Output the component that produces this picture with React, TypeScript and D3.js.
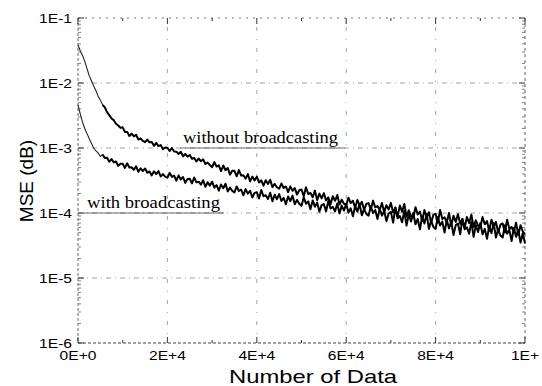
import React from 'react';
import * as d3 from 'd3';

// MSE curves, one value every 500 samples, in units of 1E-5
const sampleStep = 500;
const maxSamples = 100000;
const mseUnit = 1e-5;

const withoutBroadcasting = [
  3850, 3140, 2650, 2170, 1680, 1300, 1080, 900, 770, 625,
  545, 462, 422, 356, 320, 284, 268, 236, 222, 204,
  208, 177, 177, 153, 166, 151, 160, 135, 141, 129,
  123, 135, 122, 124, 108, 120, 107, 111, 95.5, 102,
  101, 89.8, 100, 88.3, 87.8, 80.7, 87.7, 74.4, 80.8, 73.7,
  78.2, 68.4, 70.3, 62.1, 68.6, 62.5, 66.9, 56.7, 59.6, 54.8,
  50.6, 60.8, 51.8, 54.2, 44.2, 53.8, 45.4, 49.3, 38.9, 44.7,
  44.6, 36.7, 45.7, 37.7, 38.1, 33.7, 39.7, 30.6, 36.3, 31.7,
  36.2, 29.5, 31.8, 26.3, 32.0, 28.0, 32.4, 25.0, 28.0, 24.9,
  23.6, 28.4, 24.2, 25.6, 20.9, 25.7, 22.0, 24.1, 19.2, 22.4,
  23.0, 18.1, 24.9, 19.6, 20.4, 17.5, 22.1, 15.8, 19.9, 16.8,
  20.2, 15.6, 17.4, 13.7, 18.1, 15.4, 18.9, 13.5, 16.0, 13.9,
  13.2, 17.2, 14.2, 15.4, 12.0, 15.9, 13.1, 14.9, 11.2, 13.8,
  14.2, 11.2, 15.5, 12.2, 12.8, 11.1, 14.3, 10.3, 13.2, 11.3,
  14.3, 10.2, 12.1, 8.8, 13.0, 10.5, 13.8, 8.8, 11.0, 9.0,
  8.5, 12.3, 9.5, 10.5, 7.5, 11.1, 8.5, 10.3, 7.0, 9.4,
  9.7, 7.1, 11.1, 8.1, 8.6, 7.2, 10.0, 6.4, 9.1, 7.3,
  9.6, 6.8, 8.1, 5.9, 8.7, 7.0, 9.4, 6.1, 7.7, 6.4,
  6.0, 8.7, 6.7, 7.5, 5.3, 7.9, 6.1, 7.3, 5.0, 6.6,
  6.9, 5.0, 7.9, 5.7, 6.1, 5.1, 7.1, 4.6, 6.5, 5.2, 4.7,
];

const withBroadcasting = [
  460, 335, 252, 200, 168, 140, 118, 100, 90, 84,
  74.0, 79.7, 70.2, 70.7, 61.5, 67.5, 60.2, 62.0, 53.1, 57.1,
  57.3, 49.4, 58.2, 50.2, 50.6, 46.1, 52.4, 43.1, 48.6, 44.0,
  48.4, 41.5, 43.6, 37.9, 43.8, 39.7, 44.1, 36.5, 39.7, 36.2,
  34.9, 41.5, 36.0, 37.7, 31.4, 37.9, 32.8, 35.8, 29.1, 33.3,
  33.7, 28.5, 35.1, 29.6, 30.3, 27.3, 31.9, 25.2, 29.7, 26.4,
  30.3, 24.5, 26.8, 22.0, 27.5, 24.0, 28.2, 21.5, 24.7, 21.9,
  20.8, 25.6, 21.8, 23.0, 18.7, 23.3, 19.8, 22.0, 17.3, 20.4,
  20.9, 16.7, 22.6, 18.1, 18.8, 16.4, 20.5, 15.2, 19.1, 16.3,
  19.5, 15.3, 17.1, 13.7, 17.9, 15.3, 18.5, 13.6, 15.9, 13.9,
  12.9, 17.4, 13.9, 15.1, 11.4, 15.6, 12.5, 14.5, 10.5, 13.2,
  13.7, 10.6, 15.3, 11.7, 12.4, 10.6, 14.0, 9.8, 13.0, 10.9,
  13.8, 10.2, 11.8, 8.9, 12.7, 10.5, 13.7, 9.2, 11.5, 9.7,
  9.1, 12.7, 10.0, 11.1, 8.1, 11.6, 9.1, 10.8, 7.5, 9.8,
  10.4, 7.1, 12.1, 8.3, 9.0, 7.2, 10.8, 6.4, 9.6, 7.4,
  10.0, 6.7, 8.1, 5.6, 8.9, 6.9, 9.7, 5.7, 7.6, 6.1,
  5.7, 8.7, 6.4, 7.4, 5.0, 7.9, 5.8, 7.3, 4.6, 6.5,
  6.9, 4.7, 8.1, 5.6, 6.0, 4.8, 7.3, 4.3, 6.5, 5.1,
  7.0, 4.7, 5.7, 4.0, 6.3, 4.9, 7.0, 4.2, 5.6, 4.5,
  4.2, 6.5, 4.8, 5.5, 3.7, 5.9, 4.3, 5.5, 3.5, 4.9, 3.4,
];

const xTickValues = [0, 20000, 40000, 60000, 80000, 100000];
const xTickLabels = ['0E+0', '2E+4', '4E+4', '6E+4', '8E+4', '1E+'];
const xMinorTicks = [10000, 30000, 50000, 70000, 90000];
const yTickValues = [1e-1, 1e-2, 1e-3, 1e-4, 1e-5, 1e-6];
const yTickLabels = ['1E-1', '1E-2', '1E-3', '1E-4', '1E-5', '1E-6'];
const seriesNames = ['without broadcasting', 'with broadcasting'];

const App = () => {
  const width = 542;
  const height = 386;
  const left = 78, right = 525, top = 18, bottom = 343;

  const x = d3.scaleLinear().domain([0, maxSamples]).range([left, right]);
  const y = d3.scaleLog().domain([1e-6, 1e-1]).range([bottom, top]);
  const samples = d3.range(0, maxSamples + 1, sampleStep);

  const line = d3
    .line<number>()
    .x((d, i) => x(samples[i]))
    .y((d) => y(d * mseUnit));

  // log minor ticks 2..9 in every decade
  const yMinor: number[] = [];
  yTickValues.slice(1).forEach((v) => {
    for (let k = 2; k < 10; k++) yMinor.push(v * k);
  });

  // the first few thousand samples are drawn thin, like in the scan
  const headLen = 12;

  const gridColor = '#8a8a8a';
  const sans = 'Liberation Sans, Arial, sans-serif';
  const serif = 'Liberation Serif, Times New Roman, serif';

  const curve = (values: number[], key: string) => {
    const head = values.slice(0, headLen);
    const tail = values.slice(headLen - 1);
    const tailLine = d3
      .line<number>()
      .x((d, i) => x(samples[i + headLen - 1]))
      .y((d) => y(d * mseUnit));
    return (
      <g key={key}>
        <path d={line(head) ?? ''} fill="none" stroke="#222" strokeWidth={1.1} />
        <path d={tailLine(tail) ?? ''} fill="none" stroke="#000" strokeWidth={2} strokeLinejoin="round" />
      </g>
    );
  };

  return (
    <svg width={width} height={height} style={{ position: 'absolute', left: 0, top: 0, background: '#fff' }}>
      {/* grid */}
      {yTickValues.slice(1, -1).map((v) => (
        <line key={'gy' + v} x1={left} x2={right} y1={y(v)} y2={y(v)}
          stroke={gridColor} strokeWidth={0.8} strokeDasharray="5 4 1 4" />
      ))}
      {xTickValues.slice(1, -1).map((v) => (
        <line key={'gx' + v} x1={x(v)} x2={x(v)} y1={top} y2={bottom}
          stroke={gridColor} strokeWidth={0.8} strokeDasharray="1 8 4 8" />
      ))}

      {/* frame */}
      <line x1={left} x2={right} y1={top} y2={top} stroke="#777" strokeDasharray="2 5" />
      <line x1={left} x2={right} y1={bottom} y2={bottom} stroke="#444" strokeDasharray="3 2" />
      <line x1={left} x2={left} y1={top} y2={bottom} stroke="#666" strokeDasharray="3 2" />
      <line x1={right} x2={right} y1={top} y2={bottom} stroke="#666" strokeDasharray="3 3" />

      {/* ticks */}
      {xTickValues.map((v) => (
        <g key={'tx' + v}>
          <line x1={x(v)} x2={x(v)} y1={bottom} y2={bottom - 6} stroke="#333" />
          <line x1={x(v)} x2={x(v)} y1={top} y2={top + 6} stroke="#333" />
        </g>
      ))}
      {xMinorTicks.map((v) => (
        <g key={'mx' + v}>
          <line x1={x(v)} x2={x(v)} y1={bottom} y2={bottom - 3} stroke="#333" />
          <line x1={x(v)} x2={x(v)} y1={top} y2={top + 3} stroke="#333" />
        </g>
      ))}
      {yTickValues.map((v) => (
        <g key={'ty' + v}>
          <line x1={left} x2={left + 6} y1={y(v)} y2={y(v)} stroke="#333" />
          <line x1={right} x2={right - 6} y1={y(v)} y2={y(v)} stroke="#333" />
        </g>
      ))}
      {yMinor.map((v) => (
        <g key={'my' + v}>
          <line x1={left} x2={left + 3} y1={y(v)} y2={y(v)} stroke="#666" strokeWidth={0.8} />
          <line x1={right} x2={right - 3} y1={y(v)} y2={y(v)} stroke="#666" strokeWidth={0.8} />
        </g>
      ))}

      {/* curves */}
      {curve(withoutBroadcasting, 'without')}
      {curve(withBroadcasting, 'with')}

      {/* annotations */}
      <line x1={180} x2={345} y1={y(1e-3)} y2={y(1e-3)} stroke="#444" strokeWidth={0.8} />
      <text x={183} y={143} fontFamily={serif} fontSize={17} textLength={155} lengthAdjust="spacingAndGlyphs" fill="#000">
        {seriesNames[0]}
      </text>
      <line x1={84} x2={224} y1={y(1e-4)} y2={y(1e-4)} stroke="#444" strokeWidth={0.8} />
      <text x={87} y={208} fontFamily={serif} fontSize={17} textLength={133} lengthAdjust="spacingAndGlyphs" fill="#000">
        {seriesNames[1]}
      </text>

      {/* tick labels */}
      {yTickValues.map((v, i) => (
        <text key={'ly' + v} transform={`translate(72, ${y(v) + 5}) scale(1.2, 1)`}
          textAnchor="end" fontFamily={sans} fontSize={13} fill="#000">
          {yTickLabels[i]}
        </text>
      ))}
      {xTickValues.map((v, i) => (
        <text key={'lx' + v} transform={`translate(${x(v)}, 360) scale(1.2, 1)`}
          textAnchor="middle" fontFamily={sans} fontSize={13} fill="#000">
          {xTickLabels[i]}
        </text>
      ))}

      {/* axis titles */}
      <text x={313} y={383} textAnchor="middle" fontFamily={sans} fontSize={19}
        textLength={168} lengthAdjust="spacingAndGlyphs" fill="#000">
        Number of Data
      </text>
      <text transform="translate(33, 181) rotate(-90)" textAnchor="middle" fontFamily={sans} fontSize={19} fill="#000">
        MSE (dB)
      </text>
    </svg>
  );
};

export default App;
